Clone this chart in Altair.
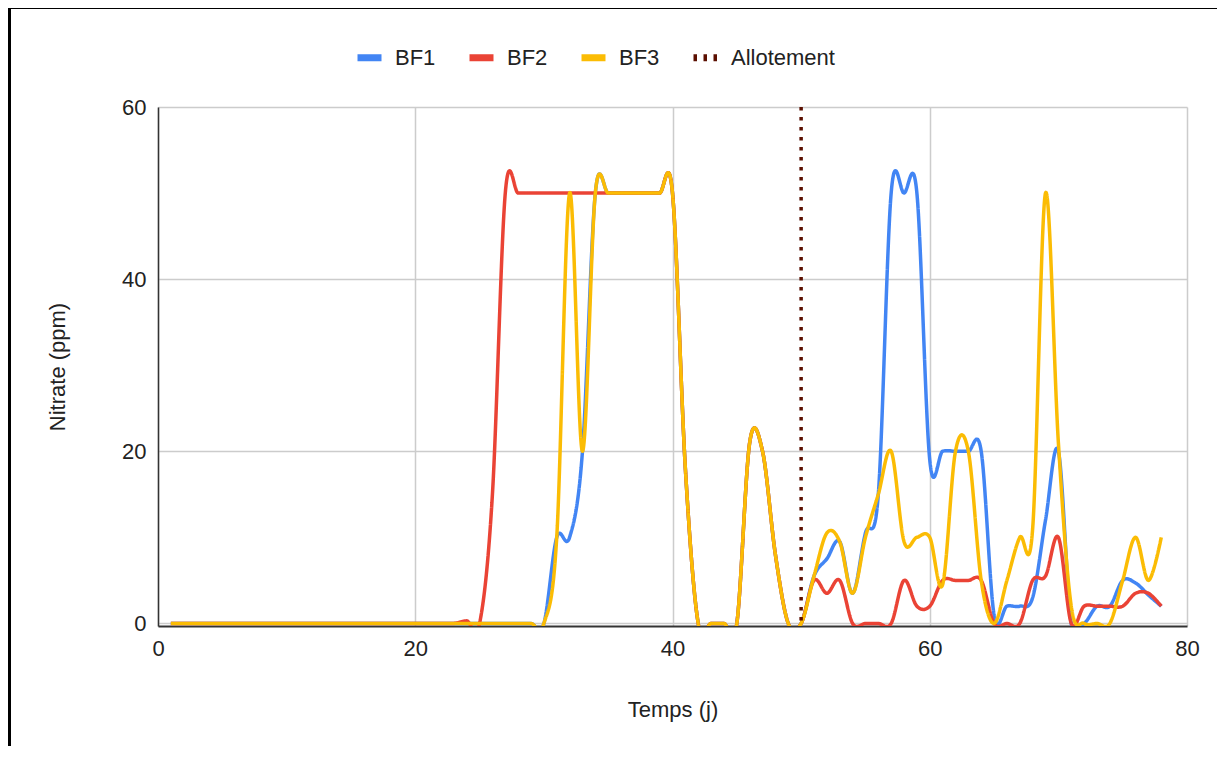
import altair as alt
import pandas as pd

days = [1, 2, 3, 4, 5, 6, 7, 8, 9, 10,
        11, 12, 13, 14, 15, 16, 17, 18, 19, 20,
        21, 22, 23, 24, 25, 26, 27, 28, 29, 30,
        31, 32, 33, 34, 35, 36, 37, 38, 39, 40,
        41, 42, 43, 44, 45, 46, 47, 48, 49, 50,
        51, 52, 53, 54, 55, 56, 57, 58, 59, 60,
        61, 62, 63, 64, 65, 66, 67, 68, 69, 70,
        71, 72, 73, 74, 75, 76, 77, 78]

bf1 = [0, 0, 0, 0, 0, 0, 0, 0, 0, 0,
       0, 0, 0, 0, 0, 0, 0, 0, 0, 0,
       0, 0, 0, 0, 0, 0, 0, 0, 0, 0,
       10, 10, 20, 50, 50, 50, 50, 50, 50, 50,
       18, 0, 0, 0, 0, 21, 20, 8, 0, 0,
       5.5, 7.5, 9.5, 3.5, 10.5, 15, 50, 50, 50, 19,
       20, 20, 20, 20, 1, 2, 2, 3, 12, 20,
       0, 0, 2, 2, 5, 4.7, 3.3, 2]

bf2 = [0, 0, 0, 0, 0, 0, 0, 0, 0, 0,
       0, 0, 0, 0, 0, 0, 0, 0, 0, 0,
       0, 0, 0, 0.3, 0, 15, 50, 50, 50, 50,
       50, 50, 50, 50, 50, 50, 50, 50, 50, 50,
       18, 0, 0, 0, 0, 21, 20, 8, 0, 0,
       5, 3.5, 5, 0, 0, 0, 0, 5, 2, 2,
       5, 5, 5, 5, 0, 0, 0, 5, 5.5, 10,
       0, 2, 2, 2, 2, 3.5, 3.5, 2]

bf3 = [0, 0, 0, 0, 0, 0, 0, 0, 0, 0,
       0, 0, 0, 0, 0, 0, 0, 0, 0, 0,
       0, 0, 0, 0, 0, 0, 0, 0, 0, 0,
       10, 50, 20, 50, 50, 50, 50, 50, 50, 50,
       18, 0, 0, 0, 0, 21, 20, 8, 0, 0,
       5.5, 10.5, 9.5, 3.5, 10, 15, 20, 9.5, 10, 10,
       4.5, 20, 20, 5, 0, 5, 10, 11, 50, 21,
       2, 0, 0, 0, 5, 10, 5, 10]

series_names = ["BF1", "BF2", "BF3", "Allotement"]
series_colors = ["#4285F4", "#EA4335", "#FBBC04", "#5B0F00"]
series_dashes = [[1, 0], [1, 0], [1, 0], [3.5, 6.5]]
allotement_day = [50]

x_ticks = [0, 20, 40, 60, 80]
y_ticks = [0, 20, 40, 60]

rows = []
for name, vals in (("BF1", bf1), ("BF2", bf2), ("BF3", bf3)):
    for d, v in zip(days, vals):
        rows.append({"day": d, "value": v, "serie": name})
df = pd.DataFrame(rows)
df_allot = pd.DataFrame({"day": allotement_day, "serie": ["Allotement"]})

FONT = "Arial"

legend = alt.Legend(
    title=None, orient="none", legendX=196, legendY=-65, direction="horizontal",
    symbolType="stroke", symbolSize=576, symbolStrokeWidth=7, symbolOpacity=1,
    labelFont=FONT, labelFontSize=22, labelColor="#222222", labelOffset=10,
    columnPadding=19,
)

color = alt.Color("serie:N", scale=alt.Scale(domain=series_names, range=series_colors), legend=legend)
dash = alt.StrokeDash("serie:N", scale=alt.Scale(domain=series_names, range=series_dashes), legend=legend)

x_enc = alt.X("day:Q", scale=alt.Scale(domain=[0, 80], nice=False, zero=False),
              axis=alt.Axis(values=x_ticks, title="Temps (j)", domainWidth=2,
                            labelPadding=12, titlePadding=40, labelFlush=False))
y_enc = alt.Y("value:Q", scale=alt.Scale(domain=[-0.3, 60], nice=False, zero=False),
              axis=alt.Axis(values=y_ticks, title="Nitrate (ppm)", domainWidth=1.5,
                            labelPadding=12, titlePadding=52, labelFlush=False))

layers = []
for name in ["BF1", "BF2", "BF3"]:
    layers.append(
        alt.Chart(df).transform_filter(alt.datum.serie == name)
        .mark_line(interpolate="cardinal", strokeWidth=3.5, clip=True)
        .encode(x=x_enc, y=y_enc, color=color, strokeDash=dash,
                order=alt.Order("day:Q"))
    )

rule = alt.Chart(df_allot).mark_rule(strokeWidth=3.5).encode(
    x=alt.X("day:Q"), color=color, strokeDash=dash)

frame_src = pd.DataFrame({"k": [0]})
frame_top = alt.Chart(frame_src).mark_rule(color="black", strokeWidth=3).encode(
    x=alt.value(-150), x2=alt.value(1064), y=alt.value(-99.5))
frame_left = alt.Chart(frame_src).mark_rule(color="black", strokeWidth=3).encode(
    x=alt.value(-148.5), x2=alt.value(-148.5), y=alt.value(-101), y2=alt.value(650))

chart = alt.layer(*layers, rule, frame_top, frame_left).properties(
    width=1029, height=519,
    autosize=alt.AutoSizeParams(type="none"),
    padding={"left": 150, "top": 99, "right": 30, "bottom": 120},
).configure_view(stroke=None).configure_axis(
    labelFont=FONT, labelFontSize=22, labelColor="#222222",
    titleFont=FONT, titleFontSize=22, titleFontWeight="normal", titleColor="#222222",
    gridColor="#cccccc", gridWidth=1.5, ticks=False, domainColor="#333333",
)

chart.save("out.html", embed_options={"renderer": "svg", "actions": False})
